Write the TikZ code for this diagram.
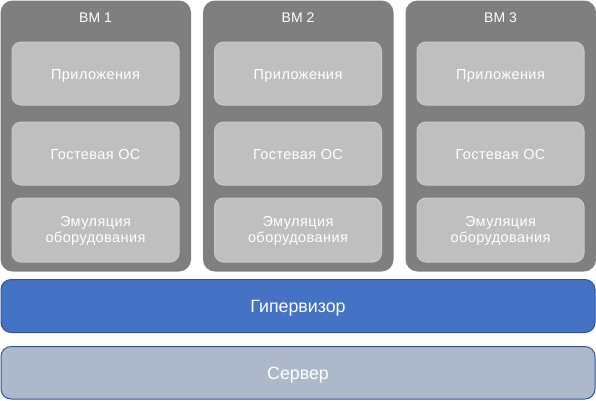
\documentclass[tikz,border=0pt]{standalone}
\usepackage{fontspec}
\setmainfont{Liberation Sans}
\definecolor{vmgray}{HTML}{7F7F7F}
\definecolor{innergray}{HTML}{BFBFBF}
\definecolor{innerline}{HTML}{C9C9C9}
\definecolor{hypblue}{HTML}{4472C4}
\definecolor{hypline}{HTML}{2F5597}
\definecolor{srvgray}{HTML}{ADB9CA}
\begin{document}
\begin{tikzpicture}[x=1pt,y=-1pt,
  vmbox/.style={fill=vmgray, rounded corners=12pt},
  layerbox/.style={fill=innergray, draw=innerline, line width=1pt, rounded corners=9pt},
  vmtitle/.style={text=white, anchor=base, inner sep=0pt, font=\fontsize{14}{16}\selectfont},
  layertext/.style={text=white, anchor=base, inner sep=0pt, font=\fontsize{14.5}{17}\selectfont\addfontfeature{LetterSpace=3}},
  bigtext/.style={text=white, anchor=base, inner sep=0pt, font=\fontsize{17.8}{20}\selectfont},
  hypbox/.style={fill=hypblue, draw=hypline, line width=1pt, rounded corners=10pt},
  srvbox/.style={fill=srvgray, draw=hypline, line width=1pt, rounded corners=10pt}]
\useasboundingbox (0,0) rectangle (596,400);
\foreach \i/\x in {1/0,2/202.5,3/405}{
  \fill[vmbox] (\x+0.5,0.5) rectangle (\x+191,271.5);
  \node[vmtitle] (t\i) at (\x+95.5,22.3) {ВМ \i};
  \draw[layerbox] (\x+12,42) rectangle (\x+179,105);
  \node[layertext] (a\i) at (\x+95.5,79.3) {Приложения};
  \draw[layerbox] (\x+12,122) rectangle (\x+179,185);
  \node[layertext] (o\i) at (\x+95.5,159) {Гостевая ОС};
  \draw[layerbox] (\x+12,198) rectangle (\x+179,262);
  \node[layertext] (e\i) at (\x+95.5,226.7) {Эмуляция};
  \node[layertext] (f\i) at (\x+95.5,242.4) {оборудования};
}
\draw[hypbox] (1,279.5) rectangle (595,332.5);
\node[bigtext] (hyp) at (298,312.7) {Гипервизор};
\draw[srvbox] (1,346.5) rectangle (595,399);
\node[bigtext] (srv) at (298,379.3) {Сервер};
\end{tikzpicture}
\end{document}
